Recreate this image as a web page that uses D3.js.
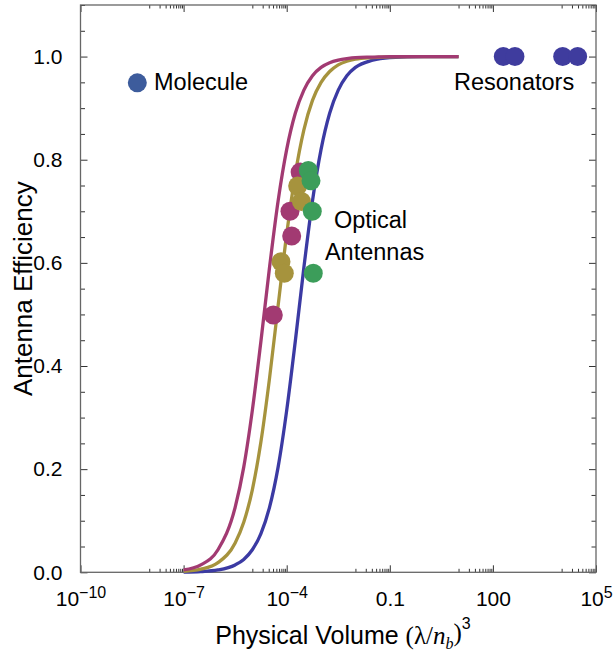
<!DOCTYPE html>
<html>
<head>
<meta charset="utf-8">
<script src="https://cdn.jsdelivr.net/npm/d3@7/dist/d3.min.js"></script>
<style>
  html, body { margin: 0; padding: 0; background: #fff; }
  svg { display: block; font-family: "Liberation Sans", Arial, sans-serif; }
</style>
</head>
<body>
<svg id="chart" width="613" height="653"></svg>
<script>
// ---- data ----
// log10(volume) sample positions of the three model curves
const curveExp = [-7, -6.5, -6, -5.5, -5.25, -5, -4.75, -4.5, -4.25, -4, -3.75, -3.5, -3.25, -3, -2.75, -2.5, -2.25, -2, -1.5, -1, 0, 1];
const magentaCurve = [0.0045, 0.0143, 0.0437, 0.126, 0.204, 0.314, 0.448, 0.591, 0.720, 0.820, 0.890, 0.935, 0.963, 0.979, 0.988, 0.993, 0.996, 0.998, 0.999, 1.0, 1.0, 1.0];
const oliveCurve   = [0.0019, 0.006, 0.0187, 0.057, 0.097, 0.160, 0.253, 0.376, 0.517, 0.656, 0.772, 0.858, 0.915, 0.950, 0.971, 0.984, 0.991, 0.995, 0.998, 0.9995, 1.0, 1.0];
const blueCurve    = [0.0005, 0.0014, 0.0045, 0.0143, 0.025, 0.0437, 0.075, 0.126, 0.204, 0.314, 0.448, 0.591, 0.720, 0.820, 0.890, 0.935, 0.963, 0.979, 0.993, 0.998, 1.0, 1.0];

// measured points (log10 volume, efficiency)
const magentaPtsExp = [-3.61, -3.905, -3.855, -4.39];
const magentaPtsEff = [0.776, 0.700, 0.652, 0.499];
const olivePtsExp   = [-3.681, -3.570, -4.166, -4.070];
const olivePtsEff   = [0.749, 0.719, 0.602, 0.580];
const greenPtsExp   = [-3.372, -3.293, -3.256, -3.227];
const greenPtsEff   = [0.779, 0.759, 0.700, 0.580];
const moleculeExp   = [-8.347];
const moleculeEff   = [0.949];
const resonatorExp  = [2.302, 2.642, 4.03, 4.466];
const resonatorEff  = [1.0, 1.0, 1.0, 1.0];

// axes
const xMajorExp = [-10, -7, -4, -1, 2, 5];
const xTickBase = ["10", "10", "10", "0.1", "100", "10"];
const xTickSup  = ["\u221210", "\u22127", "\u22124", "", "", "5"];
const yMajor = [0, 0.2, 0.4, 0.6, 0.8, 1.0];
const yTickLabels = ["0.0", "0.2", "0.4", "0.6", "0.8", "1.0"];

// annotations (position in data space: log10 volume, efficiency)
const annotations = [
  { text: "Molecule",   exp: -7.86,  eff: 0.935 },
  { text: "Resonators", exp: 0.867,  eff: 0.935 },
  { text: "Optical",    exp: -2.625, eff: 0.6675 },
  { text: "Antennas",   exp: -2.887, eff: 0.6056 }
];

// ---- chart ----
const svg = d3.select("#chart");
const L = 80.5, R = 596, T = 5, B = 572.3;
const x = d3.scaleLog().domain([1e-10, 1e5]).range([L, R]);
const y = d3.scaleLinear().domain([0, 1.1]).range([B, T]);

const frameColor = "#666";
const tickColor = "#333";

// minor x ticks: 1..9 x 10^(M-1) for each major M
const xMinor = [];
xMajorExp.forEach(M => { for (let k = 1; k <= 9; k++) { const v = k * Math.pow(10, M - 1); if (v > 1e-10 * 0.999) xMinor.push(v); } });
const yMinor = d3.range(0, 1.1001, 0.05).map(v => +v.toFixed(2)).filter(v => !yMajor.some(m => Math.abs(m - v) < 1e-6));

const xMajorVals = xMajorExp.map(e => Math.pow(10, e));

function styleAxis(g) {
  g.select(".domain").remove();
  g.selectAll(".tick line").attr("stroke", tickColor).attr("stroke-width", 1);
}

// bottom
svg.append("g").attr("transform", `translate(0,${B})`)
  .call(d3.axisBottom(x).tickValues(xMinor).tickSize(-3.5).tickFormat(""))
  .call(styleAxis);
const bottomMajor = svg.append("g").attr("transform", `translate(0,${B})`)
  .call(d3.axisBottom(x).tickValues(xMajorVals).tickSize(-7).tickPadding(19))
  .call(styleAxis);
bottomMajor.selectAll(".tick text").each(function(d, i) {
  const t = d3.select(this);
  t.text(null).attr("fill", "#000").attr("font-size", 21).attr("dy", "0.71em")
   .attr("font-family", "'Liberation Sans', Arial, sans-serif").attr("text-anchor", "middle");
  t.append("tspan").text(xTickBase[i]);
  if (xTickSup[i]) t.append("tspan").attr("dy", "-0.5em").attr("font-size", 16).text(xTickSup[i]);
});

// top
svg.append("g").attr("transform", `translate(0,${T})`)
  .call(d3.axisTop(x).tickValues(xMinor).tickSize(-3.5).tickFormat(""))
  .call(styleAxis);
svg.append("g").attr("transform", `translate(0,${T})`)
  .call(d3.axisTop(x).tickValues(xMajorVals).tickSize(-7).tickFormat(""))
  .call(styleAxis);

// left
svg.append("g").attr("transform", `translate(${L},0)`)
  .call(d3.axisLeft(y).tickValues(yMinor).tickSize(-4.5).tickFormat(""))
  .call(styleAxis);
const leftMajor = svg.append("g").attr("transform", `translate(${L},0)`)
  .call(d3.axisLeft(y).tickValues(yMajor).tickSize(-7).tickPadding(18).tickFormat((d, i) => yTickLabels[i]))
  .call(styleAxis);
leftMajor.selectAll(".tick text").attr("font-size", 21).attr("fill", "#000")
  .attr("font-family", "'Liberation Sans', Arial, sans-serif");

// right
svg.append("g").attr("transform", `translate(${R},0)`)
  .call(d3.axisRight(y).tickValues(yMinor).tickSize(-4.5).tickFormat(""))
  .call(styleAxis);
svg.append("g").attr("transform", `translate(${R},0)`)
  .call(d3.axisRight(y).tickValues(yMajor).tickSize(-7).tickFormat(""))
  .call(styleAxis);

// frame
svg.append("rect").attr("x", L).attr("y", T).attr("width", R - L).attr("height", B - T)
  .attr("fill", "none").attr("stroke", frameColor).attr("stroke-width", 1.3);

// curves
const line = d3.line().x(d => x(Math.pow(10, d[0]))).y(d => y(d[1])).curve(d3.curveMonotoneX);
const curves = [
  { vals: blueCurve, color: "#3b3aa3" },
  { vals: oliveCurve, color: "#a6933d" },
  { vals: magentaCurve, color: "#a23a72" }
];
curves.forEach(c => {
  svg.append("path").datum(curveExp.map((e, i) => [e, c.vals[i]]))
    .attr("d", line).attr("fill", "none").attr("stroke", c.color).attr("stroke-width", 3.3);
});

// points
function drawPts(exps, effs, color) {
  svg.append("g").selectAll("circle").data(exps.map((e, i) => [e, effs[i]])).join("circle")
    .attr("cx", d => x(Math.pow(10, d[0]))).attr("cy", d => y(d[1])).attr("r", 9.5)
    .attr("fill", color);
}
drawPts(magentaPtsExp, magentaPtsEff, "#a23a72");
drawPts(olivePtsExp, olivePtsEff, "#a6933d");
drawPts(greenPtsExp, greenPtsEff, "#3c9d5a");
drawPts(moleculeExp, moleculeEff, "#3d5c9c");
drawPts(resonatorExp, resonatorEff, "#3f3c9e");

// annotations
svg.append("g").selectAll("text").data(annotations).join("text")
  .attr("x", d => x(Math.pow(10, d.exp))).attr("y", d => y(d.eff))
  .attr("text-anchor", "start").attr("font-size", 23.5).attr("fill", "#000")
  .text(d => d.text);

// axis titles
const xt = svg.append("text").attr("x", 343).attr("y", 644).attr("text-anchor", "middle")
  .attr("font-size", 25).attr("fill", "#000");
xt.append("tspan").text("Physical Volume ");
xt.append("tspan").attr("font-family", "'Liberation Serif', serif").text("(\u03bb/");
xt.append("tspan").attr("font-family", "'Liberation Serif', serif").attr("font-style", "italic").text("n");
xt.append("tspan").attr("font-family", "'Liberation Serif', serif").attr("font-style", "italic").attr("font-size", 16).attr("dy", "0.3em").text("b");
xt.append("tspan").attr("font-family", "'Liberation Serif', serif").attr("dy", "-0.3em").text(")");
xt.append("tspan").attr("font-size", 16).attr("dy", "-0.75em").text("3");

svg.append("text").attr("transform", `translate(32,${(T + B) / 2}) rotate(-90)`)
  .attr("text-anchor", "middle").attr("font-size", 26).attr("fill", "#000")
  .text("Antenna Efficiency");
</script>
</body>
</html>
